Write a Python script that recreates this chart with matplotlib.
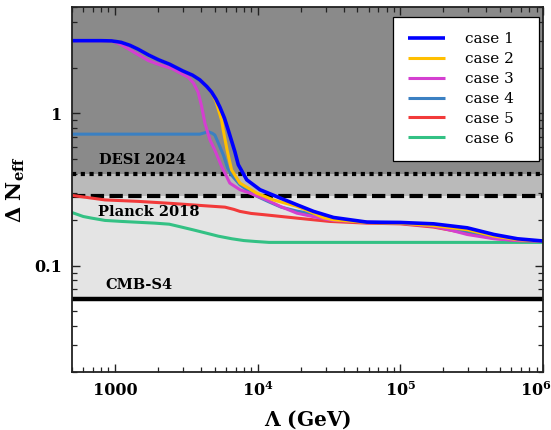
import math
import matplotlib
matplotlib.use("Agg")
import matplotlib.pyplot as plt
from matplotlib.ticker import FixedLocator, FuncFormatter, LogLocator, NullFormatter
from matplotlib.transforms import ScaledTranslation

plt.rcParams["font.family"] = ["DejaVu Serif"]
plt.rcParams["mathtext.fontset"] = "dejavuserif"

# Delta N_eff versus cutoff scale Lambda (GeV) for six scenarios
lam_1 = [500, 800, 950, 1100, 1270, 1450, 1714, 2015, 2420, 2985, 3500, 3930, 4400,
         4750, 5100, 5430, 5850, 6210, 6920, 7310, 8380, 10380, 14350, 18800, 24600,
         34000, 58300, 1e5, 1.71e5, 2.94e5, 4.53e5, 6.61e5, 1e6]
dn_1 = [3.0, 3.0, 2.99, 2.93, 2.80, 2.64, 2.42, 2.25, 2.10, 1.90, 1.78, 1.66, 1.50,
        1.38, 1.24, 1.10, 0.93, 0.78, 0.56, 0.46, 0.366, 0.315, 0.278, 0.251, 0.227,
        0.207, 0.193, 0.192, 0.188, 0.177, 0.160, 0.150, 0.145]

lam_2 = [500, 800, 950, 1100, 1270, 1450, 1714, 2015, 2420, 2985, 3500, 3930, 4400,
         4750, 5100, 5590, 5730, 6100, 6560, 7510, 9840, 12870, 18800, 24600, 29000,
         34000, 58300, 1e5, 1.71e5, 2.94e5, 4.53e5, 6.61e5, 1e6]
dn_2 = [3.0, 3.0, 2.99, 2.93, 2.80, 2.64, 2.42, 2.25, 2.10, 1.90, 1.78, 1.66, 1.50,
        1.37, 1.20, 0.90, 0.78, 0.575, 0.425, 0.348, 0.299, 0.270, 0.245, 0.221,
        0.206, 0.200, 0.192, 0.190, 0.183, 0.172, 0.156, 0.148, 0.145]

lam_3 = [500, 800, 917, 1000, 1110, 1400, 1714, 2100, 2500, 3270, 3550, 3820, 4040,
         4270, 4625, 5000, 5590, 6380, 7510, 8830, 11570, 14350, 18800, 27400, 34000,
         58300, 1e5, 1.71e5, 2.3e5, 2.94e5, 4.53e5, 6.61e5, 1e6]
dn_3 = [3.0, 3.0, 2.99, 2.94, 2.82, 2.48, 2.22, 2.07, 1.97, 1.72, 1.58, 1.38, 1.12,
        0.86, 0.67, 0.575, 0.447, 0.348, 0.315, 0.299, 0.270, 0.245, 0.221, 0.205,
        0.198, 0.193, 0.190, 0.181, 0.170, 0.160, 0.150, 0.146, 0.145]

lam_4 = [500, 3930, 4250, 4490, 4800, 5010, 5290, 5760, 6140, 6600, 7500, 9500,
         12000, 14600, 18800, 24600, 30000, 58300, 1e5, 1.71e5, 2.94e5, 4.53e5,
         6.61e5, 1e6]
dn_4 = [0.73, 0.73, 0.745, 0.758, 0.74, 0.72, 0.64, 0.53, 0.44, 0.39, 0.34, 0.29,
        0.262, 0.242, 0.228, 0.218, 0.207, 0.192, 0.190, 0.182, 0.168, 0.154,
        0.147, 0.145]

lam_5 = [500, 850, 1460, 2500, 4290, 5900, 6800, 7500, 9000, 11000, 18800, 32000,
         58300, 1e5, 1.71e5, 2.94e5, 4.53e5, 6.61e5, 1e6]
dn_5 = [0.289, 0.270, 0.264, 0.256, 0.247, 0.242, 0.234, 0.227, 0.220, 0.216, 0.205,
        0.195, 0.190, 0.188, 0.179, 0.163, 0.151, 0.146, 0.145]

lam_6 = [500, 600, 686, 850, 1110, 1905, 2400, 2785, 3500, 4290, 5300, 6590, 8000,
         9620, 12000, 1e6]
dn_6 = [0.223, 0.210, 0.205, 0.198, 0.195, 0.190, 0.187, 0.181, 0.172, 0.164, 0.156,
        0.150, 0.146, 0.144, 0.142, 0.142]

case_labels = ["case 1", "case 2", "case 3", "case 4", "case 5", "case 6"]
case_colors = ["#0000ff", "#ffbf00", "#d43fd0", "#3b80c2", "#f23a3a", "#33c184"]

# experimental bounds on Delta N_eff
desi_2024 = 0.40
planck_2018 = 0.285
cmb_s4 = 0.06

fig = plt.figure(figsize=(5.51, 4.30), dpi=100)
ax = fig.add_axes([0.1307, 0.1349, 0.855, 0.849])
ax.set_xscale("log")
ax.set_yscale("log")
ax.set_xlim(500, 1e6)
ax.set_ylim(0.02, 5)

# shaded exclusion bands
ax.axhspan(desi_2024, 5, facecolor="#8a8a8a", edgecolor="none", zorder=0.1)
ax.axhspan(planck_2018, desi_2024, facecolor="#bababa", edgecolor="none", zorder=0.2)
ax.axhspan(cmb_s4, planck_2018, facecolor="#e4e4e4", edgecolor="none", zorder=0.3)

ax.axhline(desi_2024, color="black", lw=3.0, ls=(0, (1.0, 1.1)), zorder=2)
ax.axhline(planck_2018, color="black", lw=3.0, ls=(0, (3.2, 1.3)), zorder=2)
ax.axhline(cmb_s4, color="black", lw=3.2, zorder=2)

series = [(lam_1, dn_1), (lam_2, dn_2), (lam_3, dn_3),
          (lam_4, dn_4), (lam_5, dn_5), (lam_6, dn_6)]
widths = [2.6, 2.2, 2.2, 2.2, 2.2, 2.2]
zorders = [9, 8, 7, 6, 5, 4]
handles = []
for (lx, ly), lab, col, lw, zo in zip(series, case_labels, case_colors, widths, zorders):
    h, = ax.plot(lx, ly, color=col, lw=lw, label=lab, zorder=zo,
                 solid_joinstyle="round", solid_capstyle="butt")
    handles.append(h)

label_kw = dict(fontsize=10.5, fontweight="bold", ha="center", va="center", zorder=10)
ax.text(1550, 0.494, "DESI 2024", **label_kw)
ax.text(1714, 0.226, "Planck 2018", **label_kw)
ax.text(1473, 0.0745, "CMB-S4", **label_kw)

leg = ax.legend(handles=handles, loc="upper left",
                bbox_to_anchor=(0.6809, 0.0, 0.3113, 0.9718), mode="expand",
                fontsize=11, frameon=True, fancybox=False, edgecolor="black",
                framealpha=1.0, handlelength=2.4, handletextpad=1.3,
                labelspacing=0.38, borderpad=1.0, borderaxespad=0.0)
leg.get_frame().set_linewidth(0.9)
leg.set_zorder(20)


def xfmt(v, pos):
    if abs(v - 1000) < 1:
        return "1000"
    e = int(round(math.log10(v)))
    return r"10$^{\mathbf{%d}}$" % e


def yfmt(v, pos):
    return "1" if abs(v - 1) < 1e-9 else "0.1"


ax.xaxis.set_major_locator(FixedLocator([1e3, 1e4, 1e5, 1e6]))
ax.xaxis.set_major_formatter(FuncFormatter(xfmt))
ax.xaxis.set_minor_locator(LogLocator(base=10, subs=range(2, 10), numticks=20))
ax.xaxis.set_minor_formatter(NullFormatter())
ax.yaxis.set_major_locator(FixedLocator([0.1, 1]))
ax.yaxis.set_major_formatter(FuncFormatter(yfmt))
ax.yaxis.set_minor_locator(LogLocator(base=10, subs=range(2, 10), numticks=20))
ax.yaxis.set_minor_formatter(NullFormatter())

ax.tick_params(which="both", direction="in", top=True, right=True, color="#222222")
ax.tick_params(which="major", length=6, width=1.0, labelsize=11.5, pad=7)
ax.tick_params(which="minor", length=3.5, width=0.9)
for sp in ax.spines.values():
    sp.set_linewidth(1.3)
    sp.set_color("#222222")
    sp.set_zorder(30)

ax.set_xlabel(r"$\mathbf{\Lambda}$ (GeV)", fontsize=14.5, fontweight="bold", labelpad=6)
ax.set_ylabel(r"$\mathbf{\Delta\ N_{eff}}$", fontsize=15, labelpad=5)

fig.canvas.draw()
for t in ax.get_xticklabels() + ax.get_yticklabels():
    t.set_fontweight("bold")
# keep the rightmost decade label inside the figure
last = ax.xaxis.get_major_ticks()[-1].label1
last.set_transform(last.get_transform() + ScaledTranslation(-7 / 100, 0, fig.dpi_scale_trans))

fig.savefig("out.png", dpi=100)
